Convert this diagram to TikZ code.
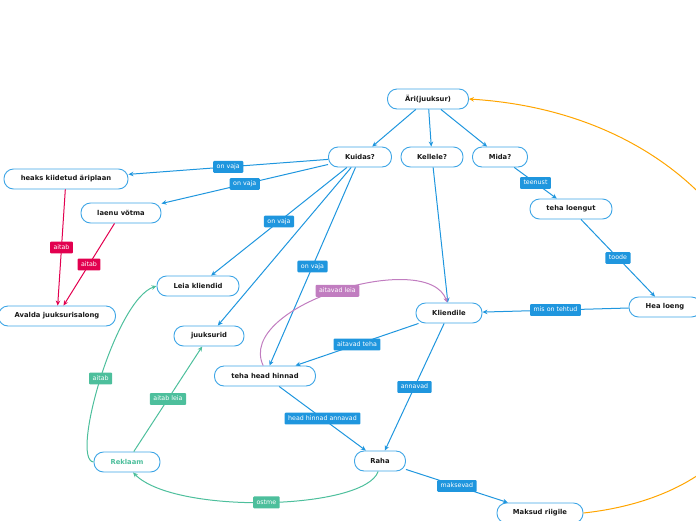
\documentclass[tikz,border=0pt]{standalone}
\usepackage{fontspec}
\setmainfont{DejaVu Sans}
\usetikzlibrary{arrows.meta}

\definecolor{mmblue}{HTML}{1F96DE}
\definecolor{mmborder}{HTML}{3DA5E6}
\definecolor{mmred}{HTML}{E2004F}
\definecolor{mmgreen}{HTML}{4DBF9C}
\definecolor{mmpurple}{HTML}{C17DC0}
\definecolor{mmorange}{HTML}{FFA500}

\begin{document}
\begin{tikzpicture}[x=1pt, y=-1pt,
  topic/.style={draw=mmborder, line width=0.9pt, fill=white, rounded corners=9.5pt, minimum height=20pt, inner sep=2pt, font=\fontsize{6.8}{8}\selectfont\bfseries, text=black!90},
  lab/.style={rounded corners=1pt, text=white, inner xsep=3.5pt, inner ysep=2.8pt, text height=5pt, text depth=1.3pt, font=\fontsize{6.3}{7}\selectfont},
  blab/.style={lab, fill=mmblue},
  rlab/.style={lab, fill=mmred},
  glab/.style={lab, fill=mmgreen},
  plab/.style={lab, fill=mmpurple},
  tip/.style={-{Stealth[length=5pt, width=4.5pt]}},
  bline/.style={tip, draw=mmblue, line width=1pt},
  rline/.style={tip, draw=mmred, line width=1pt},
  gline/.style={tip, draw=mmgreen, line width=1pt},
  pline/.style={tip, draw=mmpurple, line width=1pt},
  oline/.style={tip, draw=mmorange, line width=1pt}
]
\useasboundingbox (0,0) rectangle (696,520);
\clip (0,0) rectangle (696,520);

% ---------- Topics ----------
\node[topic, minimum width=81pt] (ari) at (428,99) {Äri(juuksur)};
\node[topic, minimum width=63pt] (kuidas) at (360,157) {Kuidas?};
\node[topic, minimum width=62pt] (kellele) at (432,157) {Kellele?};
\node[topic, minimum width=55pt] (mida) at (500,157) {Mida?};

\node[topic, minimum width=124pt] (aeriplaan) at (66,179) {heaks kiidetud äriplaan};
\node[topic, minimum width=80pt] (laenu) at (121,213) {laenu võtma};
\node[topic, minimum width=117pt] (avalda) at (57,316) {Avalda juuksurisalong};
\node[topic, minimum width=82pt] (leia) at (198,286) {Leia kliendid};
\node[topic, minimum width=70pt] (juuksurid) at (209,336) {juuksurid};
\node[topic, minimum width=101pt] (hinnad) at (265,376) {teha head hinnad};

\node[topic, minimum width=82pt] (loengut) at (571,209) {teha loengut};
\node[topic, minimum width=72pt] (healoeng) at (665,307) {Hea loeng};
\node[topic, minimum width=66pt] (kliendile) at (449,313) {Kliendile};
\node[topic, minimum width=51pt] (raha) at (380,461) {Raha};
\node[topic, minimum width=66pt, text=mmgreen] (reklaam) at (127,462) {Reklaam};
\node[topic, minimum width=86pt] (maksud) at (540,513) {Maksud riigile};

% ---------- Main branches ----------
\draw[bline] (ari) -- (kuidas);
\draw[bline] (ari) -- (kellele);
\draw[bline] (ari) -- (mida);

% ---------- Kuidas? ----------
\draw[bline] (kuidas) -- (aeriplaan) node[midway, blab] {on vaja};
\draw[bline] (kuidas) -- (laenu) node[midway, blab] {on vaja};
\draw[bline] (kuidas) -- (leia) node[midway, blab] {on vaja};
\draw[bline] (kuidas) -- (juuksurid);
\draw[bline] (kuidas) -- (hinnad) node[midway, blab] {on vaja};

\draw[rline] (aeriplaan) -- (avalda) node[midway, rlab] {aitab};
\draw[rline] (laenu) -- (avalda) node[midway, rlab] {aitab};

% ---------- Mida? / Kellele? ----------
\draw[bline] (mida) -- (loengut) node[midway, blab] {teenust};
\draw[bline] (loengut) -- (healoeng) node[midway, blab] {toode};
\draw[bline] (healoeng) -- (kliendile) node[midway, blab] {mis on tehtud};
\draw[bline] (kellele) -- (kliendile);

% ---------- Money ----------
\draw[bline] (kliendile) -- (hinnad) node[midway, blab] {aitavad teha};
\draw[bline] (kliendile) -- (raha) node[midway, blab] {annavad};
\draw[bline] (hinnad) -- (raha) node[midway, blab] {head hinnad annavad};
\draw[bline] (raha) -- (maksud) node[midway, blab] {maksevad};

% ---------- Curved relations ----------
\draw[pline] (hinnad.100) .. controls (235,305) and (428,248) .. (kliendile.100)
  node[pos=0.5, plab] {aitavad leia};
\draw[gline] (reklaam.west) .. controls (70,460) and (115,300) .. (leia.west)
  node[pos=0.5, glab] {aitab};
\draw[gline] (reklaam) -- (juuksurid) node[midway, glab] {aitab leia};
\draw[gline] (raha.-100) .. controls (365,510) and (175,515) .. (reklaam.-60)
  node[pos=0.5, glab] {ostme};
\draw[oline] (maksud.east) .. controls (883,480) and (801,120) .. (ari.east);

\end{tikzpicture}
\end{document}
